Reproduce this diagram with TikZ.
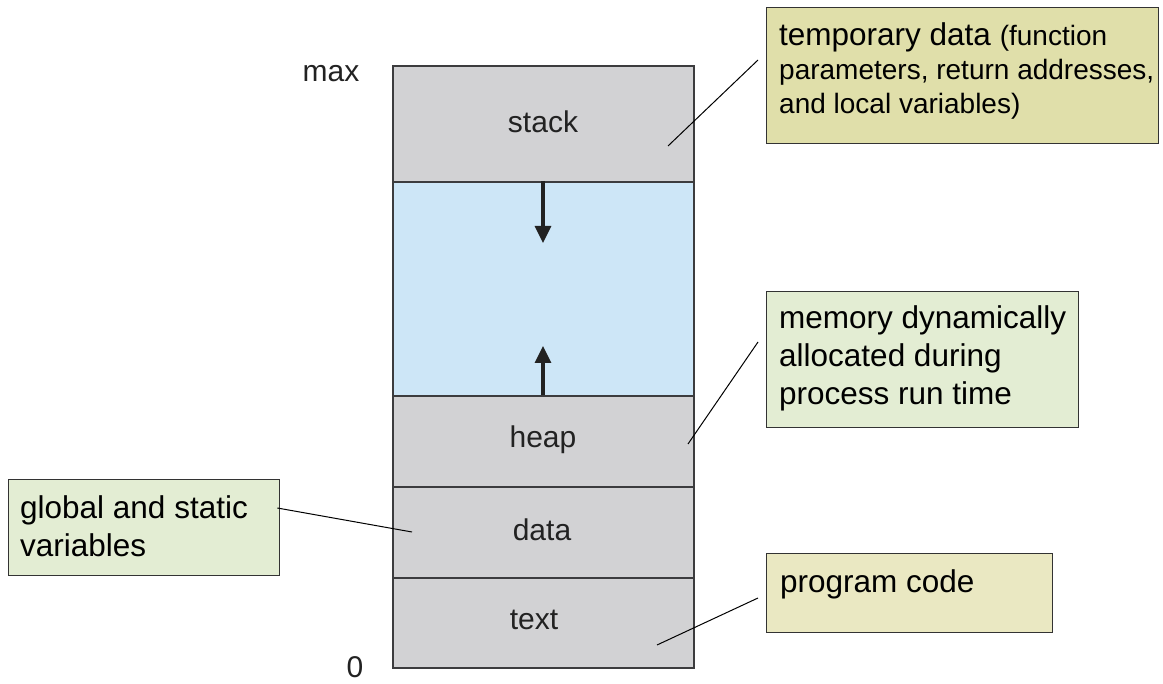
\documentclass[tikz,border=0pt]{standalone}
\usepackage{fontspec}
\setmainfont{Liberation Sans}
\usetikzlibrary{arrows.meta}
\definecolor{segfill}{RGB}{210,210,212}
\definecolor{freefill}{RGB}{205,230,247}
\definecolor{segline}{RGB}{60,60,62}
\definecolor{khaki}{RGB}{224,223,170}
\definecolor{khakilight}{RGB}{234,232,194}
\definecolor{palegreen}{RGB}{227,237,211}
\definecolor{labtext}{RGB}{34,34,34}
\tikzset{
  seg/.style={draw=segline, line width=2pt, fill=segfill, anchor=north west, inner sep=0pt, minimum width=301pt},
  freeseg/.style={seg, fill=freefill},
  seglabel/.style={font=\fontsize{30}{36}\selectfont, text=labtext, anchor=base, inner sep=0pt},
  callbox/.style={draw=black!80, line width=1.3pt, anchor=north west, inner sep=0pt},
  calltext/.style={anchor=north west, inner sep=0pt, align=left, text=black},
  callline/.style={draw=black, line width=1pt},
  growarrow/.style={draw=labtext, line width=3.2pt, -{Triangle[length=17pt,width=16pt]}}
}
\begin{document}
\begin{tikzpicture}[x=1pt,y=-1pt]
\useasboundingbox (0,0) rectangle (1163,684);
% memory column
\node[seg, minimum height=116pt] (stack) at (392,65) {};
\node[freeseg, minimum height=214pt] (free) at (392,181) {};
\node[seg, minimum height=91pt] (heap) at (392,395) {};
\node[seg, minimum height=91pt] (data) at (392,486) {};
\node[seg, minimum height=90pt] (text) at (392,577) {};
% labels
\node[seglabel] (lstack) at (543,133) {stack};
\node[seglabel] (lheap) at (543,448) {heap};
\node[seglabel] (ldata) at (542,541) {data};
\node[seglabel] (ltext) at (534,630) {text};
\node[seglabel] (lmax) at (331,82) {max};
\node[seglabel] (lzero) at (355,677) {0};
% growth arrows
\coordinate (downtip) at (543,243);
\coordinate (uptip) at (543,346);
\draw[growarrow] (543,181) -- (downtip);
\draw[growarrow] (543,395) -- (uptip);
% callout boxes
\node[callbox, fill=khaki, minimum width=392pt, minimum height=136pt] (tbox) at (766,7) {};
\node[calltext, font=\fontsize{31.5}{34}\selectfont] (ttext) at (779,22)
  {temporary data {\fontsize{28}{34}\selectfont(function}\\
   {\fontsize{28}{34}\selectfont parameters, return addresses,}\\
   {\fontsize{28}{34}\selectfont and local variables)}};
\node[callbox, fill=palegreen, minimum width=312pt, minimum height=136pt] (mbox) at (766,291) {};
\node[calltext, font=\fontsize{31.5}{38}\selectfont] (mtext) at (779,305)
  {memory dynamically\\allocated during\\process run time};
\node[callbox, fill=palegreen, minimum width=271pt, minimum height=96pt] (gbox) at (8,479) {};
\node[calltext, font=\fontsize{31.5}{38}\selectfont] (gtext) at (20,495)
  {global and static\\variables};
\node[callbox, fill=khakilight, minimum width=286pt, minimum height=79pt] (pbox) at (766,553) {};
\node[calltext, font=\fontsize{31.5}{38}\selectfont] (ptext) at (780,569)
  {program code};
% callout lines
\coordinate (sstack) at (668,146);
\coordinate (sheap) at (688,444);
\coordinate (sdata) at (412,532);
\coordinate (stext) at (657,645);
\draw[callline] ([xshift=-8pt,yshift=-53pt]tbox.north west) -- (sstack);
\draw[callline] ([xshift=-8pt,yshift=-51pt]mbox.north west) -- (sheap);
\draw[callline] ([xshift=-3pt,yshift=-29pt]gbox.north east) -- (sdata);
\draw[callline] ([xshift=-8pt,yshift=-45pt]pbox.north west) -- (stext);
\end{tikzpicture}
\end{document}
